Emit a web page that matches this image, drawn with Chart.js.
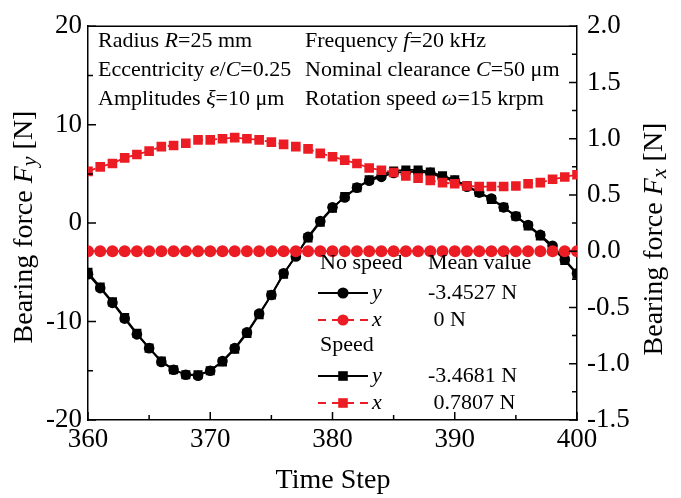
<!DOCTYPE html>
<html>
<head>
<meta charset="utf-8">
<script src="https://cdn.jsdelivr.net/npm/chart.js@4"></script>
<style>
  html, body { margin: 0; padding: 0; background: #fff; }
  #wrap { width: 681px; height: 498px; }
</style>
</head>
<body>
<div id="wrap"><canvas id="bearing-plot" width="681" height="498"></canvas></div>
<script>
// time steps on the x axis
const timeSteps = [360, 361, 362, 363, 364, 365, 366, 367, 368, 369,
                   370, 371, 372, 373, 374, 375, 376, 377, 378, 379,
                   380, 381, 382, 383, 384, 385, 386, 387, 388, 389,
                   390, 391, 392, 393, 394, 395, 396, 397, 398, 399, 400];

// Fy, left axis [N]
const noSpeedFy = [-5.2, -6.6, -8.1, -9.7, -11.3, -12.7, -14.1, -14.9, -15.4, -15.5,
                   -15.0, -14.0, -12.7, -11.1, -9.2, -7.3, -5.1, -3.4, -1.4, 0.2,
                   1.6, 2.6, 3.6, 4.3, 4.7, 5.1, 5.2, 5.2, 5.1, 4.6,
                   4.3, 3.7, 3.1, 2.5, 1.6, 0.7, -0.2, -1.2, -2.3, -3.7, -5.1];
const speedFy = [-5.0, -6.5, -8.0, -9.6, -11.2, -12.7, -14.0, -14.9, -15.4, -15.4,
                 -15.0, -14.1, -12.8, -11.2, -9.3, -7.3, -5.2, -3.3, -1.5, 0.1,
                 1.5, 2.7, 3.6, 4.4, 4.9, 5.3, 5.4, 5.4, 5.2, 4.8,
                 4.4, 3.8, 3.1, 2.4, 1.6, 0.7, -0.3, -1.3, -2.5, -3.8, -5.2];

// Fx, right axis [N]
const noSpeedFx = [0, 0, 0, 0, 0, 0, 0, 0, 0, 0,
                   0, 0, 0, 0, 0, 0, 0, 0, 0, 0,
                   0, 0, 0, 0, 0, 0, 0, 0, 0, 0,
                   0, 0, 0, 0, 0, 0, 0, 0, 0, 0, 0];
const speedFx = [0.71, 0.75, 0.78, 0.83, 0.86, 0.89, 0.93, 0.94, 0.96, 0.99,
                 0.99, 1.00, 1.01, 1.00, 0.99, 0.97, 0.95, 0.93, 0.91, 0.87,
                 0.84, 0.81, 0.78, 0.74, 0.72, 0.70, 0.67, 0.65, 0.63, 0.61,
                 0.60, 0.58, 0.575, 0.575, 0.575, 0.58, 0.60, 0.61, 0.64, 0.66, 0.68];

// mean values shown in the legend
const meanNoSpeed = ["-3.4527 N", " 0 N"];
const meanSpeed = ["-3.4681 N", " 0.7807 N"];

const FONT = '"Liberation Serif", "Times New Roman", serif';
const RED = "#ec1c24";
const BLACK = "#000000";

function toPoints(values) {
    return timeSteps.map((t, i) => ({ x: t, y: values[i] }));
}

// draws text pieces one after the other, some in italic
function drawRich(ctx, x, y, parts, size) {
    let cx = x;
    for (const p of parts) {
        const sz = p[2] || size;
        ctx.font = (p[1] ? "italic " : "") + sz + "px " + FONT;
        ctx.fillText(p[0], cx, y + (p[3] || 0));
        cx += ctx.measureText(p[0]).width;
    }
    return cx;
}

function richWidth(ctx, parts, size) {
    let w = 0;
    for (const p of parts) {
        ctx.font = (p[1] ? "italic " : "") + (p[2] || size) + "px " + FONT;
        w += ctx.measureText(p[0]).width;
    }
    return w;
}

function drawMarker(ctx, style, x, y, color) {
    ctx.fillStyle = color;
    ctx.beginPath();
    if (style === "rect") {
        ctx.rect(x - 4.8, y - 4.8, 9.6, 9.6);
    } else {
        ctx.arc(x, y, 5.6, 0, Math.PI * 2);
    }
    ctx.fill();
}

function legendRow(ctx, y, color, dashed, style, label, mean) {
    ctx.save();
    ctx.strokeStyle = color;
    ctx.lineWidth = 1.8;
    ctx.setLineDash(dashed ? [8, 6] : []);
    ctx.beginPath();
    ctx.moveTo(318, y);
    ctx.lineTo(368, y);
    ctx.stroke();
    ctx.restore();
    drawMarker(ctx, style, 343, y, color);
    ctx.fillStyle = BLACK;
    drawRich(ctx, 372, y + 6, [[label, true]], 22);
    drawRich(ctx, 428, y + 6, [[mean, false]], 22);
}

const decorPlugin = {
    id: "decor",
    afterDraw(chart) {
        const ctx = chart.ctx;
        const area = chart.chartArea;
        const xs = chart.scales.x, ys = chart.scales.y, ys1 = chart.scales.y1;
        ctx.save();
        ctx.strokeStyle = BLACK;
        ctx.lineWidth = 1.5;

        // top frame line
        ctx.beginPath();
        ctx.moveTo(area.left, area.top);
        ctx.lineTo(area.right, area.top);
        ctx.stroke();

        // inward ticks, major and minor
        ctx.beginPath();
        const xt = xs.ticks.map(t => t.value);
        xt.forEach((v, i) => {
            const px = xs.getPixelForValue(v);
            ctx.moveTo(px, area.bottom); ctx.lineTo(px, area.bottom - 8);
            if (i < xt.length - 1) {
                const mx = xs.getPixelForValue((v + xt[i + 1]) / 2);
                ctx.moveTo(mx, area.bottom); ctx.lineTo(mx, area.bottom - 5);
            }
        });
        const yt = ys.ticks.map(t => t.value);
        yt.forEach((v, i) => {
            const py = ys.getPixelForValue(v);
            ctx.moveTo(area.left, py); ctx.lineTo(area.left + 8, py);
            if (i < yt.length - 1) {
                const my = ys.getPixelForValue((v + yt[i + 1]) / 2);
                ctx.moveTo(area.left, my); ctx.lineTo(area.left + 5, my);
            }
        });
        const y1t = ys1.ticks.map(t => t.value);
        y1t.forEach((v, i) => {
            const py = ys1.getPixelForValue(v);
            ctx.moveTo(area.right, py); ctx.lineTo(area.right - 8, py);
            if (i < y1t.length - 1) {
                const my = ys1.getPixelForValue((v + y1t[i + 1]) / 2);
                ctx.moveTo(area.right, my); ctx.lineTo(area.right - 5, my);
            }
        });
        ctx.stroke();

        // parameter notes in the top of the plot
        ctx.fillStyle = BLACK;
        ctx.textBaseline = "alphabetic";
        ctx.textAlign = "left";
        drawRich(ctx, 98, 47, [["Radius ", false], ["R", true], ["=25 mm", false]], 22);
        drawRich(ctx, 98, 76, [["Eccentricity ", false], ["e", true], ["/", false], ["C", true], ["=0.25", false]], 22);
        drawRich(ctx, 98, 105, [["Amplitudes ", false], ["\u03BE", true], ["=10 \u03BCm", false]], 22);
        drawRich(ctx, 305, 47, [["Frequency ", false], ["f", true], ["=20 kHz", false]], 22);
        drawRich(ctx, 305, 76, [["Nominal clearance ", false], ["C", true], ["=50 \u03BCm", false]], 22);
        drawRich(ctx, 305, 105, [["Rotation speed ", false], ["\u03C9", true], ["=15 krpm", false]], 22);

        // legend block
        drawRich(ctx, 320, 269, [["No speed", false]], 22);
        drawRich(ctx, 428, 269, [["Mean value", false]], 22);
        legendRow(ctx, 293, BLACK, false, "circle", "y", meanNoSpeed[0]);
        legendRow(ctx, 320, RED, true, "circle", "x", meanNoSpeed[1]);
        ctx.fillStyle = BLACK;
        drawRich(ctx, 320, 351, [["Speed", false]], 22);
        legendRow(ctx, 376, BLACK, false, "rect", "y", meanSpeed[0]);
        legendRow(ctx, 403, RED, true, "rect", "x", meanSpeed[1]);

        // axis titles
        ctx.fillStyle = BLACK;
        const xTitle = [["Time Step", false]];
        drawRich(ctx, 333 - richWidth(ctx, xTitle, 28) / 2, 488, xTitle, 28);

        const leftTitle = [["Bearing force ", false], ["F", true], ["y", true, 22, 5], [" [N]", false]];
        ctx.save();
        ctx.translate(25, 227);
        ctx.rotate(-Math.PI / 2);
        ctx.textBaseline = "middle";
        drawRich(ctx, -richWidth(ctx, leftTitle, 28) / 2, 0, leftTitle, 28);
        ctx.restore();

        const rightTitle = [["Bearing force ", false], ["F", true], ["x", true, 22, 5], [" [N]", false]];
        ctx.save();
        ctx.translate(655, 239);
        ctx.rotate(-Math.PI / 2);
        ctx.textBaseline = "middle";
        drawRich(ctx, -richWidth(ctx, rightTitle, 28) / 2, 0, rightTitle, 28);
        ctx.restore();

        ctx.restore();
    }
};

const tickFont = { family: FONT, size: 27 };

new Chart("bearing-plot", {
    type: "line",
    data: {
        datasets: [
            {
                label: "Speed x", data: toPoints(speedFx), yAxisID: "y1",
                borderColor: RED, backgroundColor: RED, borderDash: [8, 6], borderWidth: 1.8,
                pointStyle: "rect", pointRadius: 6.8, pointBorderWidth: 0, pointBackgroundColor: RED
            },
            {
                label: "No speed x", data: toPoints(noSpeedFx), yAxisID: "y1",
                borderColor: RED, backgroundColor: RED, borderDash: [8, 6], borderWidth: 1.8,
                pointStyle: "circle", pointRadius: 6, pointBorderWidth: 0, pointBackgroundColor: RED
            },
            {
                label: "No speed y", data: toPoints(noSpeedFy), yAxisID: "y",
                borderColor: BLACK, backgroundColor: BLACK, borderWidth: 1.8,
                pointStyle: "circle", pointRadius: 5.3, pointBorderWidth: 0, pointBackgroundColor: BLACK
            },
            {
                label: "Speed y", data: toPoints(speedFy), yAxisID: "y",
                borderColor: BLACK, backgroundColor: BLACK, borderWidth: 1.8,
                pointStyle: "rect", pointRadius: 6.4, pointBorderWidth: 0, pointBackgroundColor: BLACK
            }
        ]
    },
    options: {
        responsive: false,
        animation: false,
        devicePixelRatio: 1,
        layout: { padding: { top: 19, left: 0, right: 0, bottom: 0 } },
        elements: { line: { tension: 0 } },
        plugins: {
            legend: { display: false },
            tooltip: { enabled: false }
        },
        scales: {
            x: {
                type: "linear", position: "bottom", min: 360, max: 400,
                ticks: { stepSize: 10, font: tickFont, color: BLACK, padding: 4, maxRotation: 0 },
                grid: { display: false, drawTicks: false },
                border: { color: BLACK, width: 1.5 },
                afterFit(scale) { scale.height = 78; }
            },
            y: {
                position: "left", min: -20, max: 20,
                ticks: { stepSize: 10, font: tickFont, color: BLACK, padding: 6 },
                grid: { display: false, drawTicks: false },
                border: { color: BLACK, width: 1.5 },
                afterFit(scale) { scale.width = 88; }
            },
            y1: {
                position: "right", min: -1.5, max: 2.0,
                ticks: { stepSize: 0.5, font: tickFont, color: BLACK, padding: 10,
                         callback: v => v.toFixed(1) },
                grid: { display: false, drawTicks: false },
                border: { color: BLACK, width: 1.5 },
                afterFit(scale) { scale.width = 104; }
            }
        }
    },
    plugins: [decorPlugin]
});
</script>
</body>
</html>
